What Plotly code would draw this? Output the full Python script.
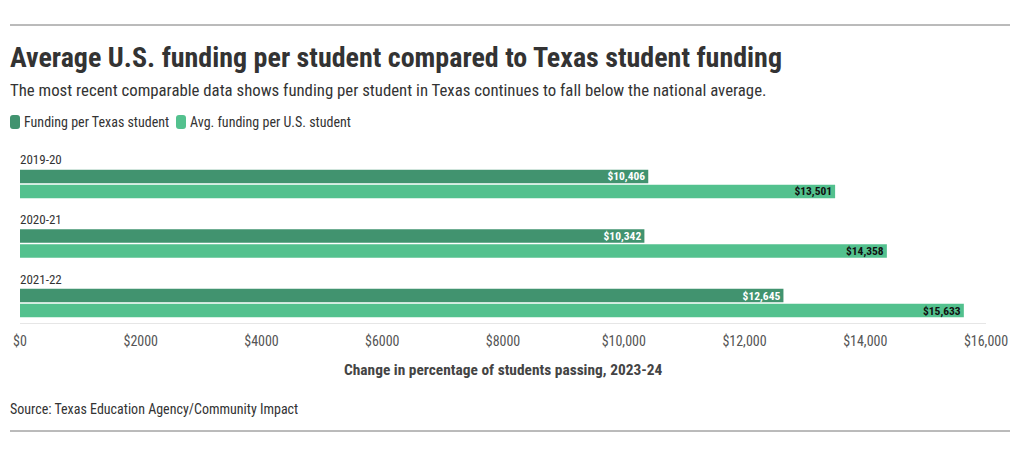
import plotly.graph_objects as go

years = ["2019-20", "2020-21", "2021-22"]
texas = [10406, 10342, 12645]
us_avg = [13501, 14358, 15633]
series_names = ["Funding per Texas student", "Avg. funding per U.S. student"]
tick_vals = [0, 2000, 4000, 6000, 8000, 10000, 12000, 14000, 16000]
tick_text = ["$0", "$2000", "$4000", "$6000", "$8000", "$10,000", "$12,000", "$14,000", "$16,000"]

FONT = "Liberation Sans Narrow, Roboto Condensed, Roboto, sans-serif"
DARK = "#41936f"
LIGHT = "#53c18e"

W, H = 1020, 456
L, R, T, B = 20, 34, 150, 133
PW, PH = W - L - R, H - T - B

def px(x):
    return (x - L) / PW

def py(y):
    return (H - B - y) / PH

fig = go.Figure()
fig.add_trace(go.Bar(
    y=years, x=texas, orientation="h", name=series_names[0],
    marker=dict(color=DARK, line_width=0),
    texttemplate="$%{x:,}", textposition="inside", insidetextanchor="end",
    insidetextfont=dict(color="white", size=11.5, family=FONT, weight="bold"),
    constraintext="none", hoverinfo="skip",
))
fig.add_trace(go.Bar(
    y=years, x=us_avg, orientation="h", name=series_names[1],
    marker=dict(color=LIGHT, line_width=0),
    texttemplate="$%{x:,}", textposition="inside", insidetextanchor="end",
    insidetextfont=dict(color="#111111", size=11.5, family=FONT, weight="bold"),
    constraintext="none", hoverinfo="skip",
))

annotations = []
for yr in years:
    annotations.append(dict(x=0, y=yr, xref="x", yref="y", text=yr, showarrow=False,
                            xanchor="left", yanchor="middle", yshift=24, xshift=-2,
                            font=dict(family=FONT, size=13, color="#333333")))
annotations += [
    dict(x=px(10), y=py(57), xref="paper", yref="paper", xanchor="left", yanchor="middle",
         text="<b>Average U.S. funding per student compared to Texas student funding</b>",
         showarrow=False, font=dict(family=FONT, size=28, color="#333333"), xshift=-2),
    dict(x=px(10), y=py(90), xref="paper", yref="paper", xanchor="left", yanchor="middle",
         text="The most recent comparable data shows funding per student in Texas continues to fall below the national average.",
         showarrow=False, font=dict(family=FONT, size=16.8, color="#333333"), xshift=-2),
    dict(x=px(503), y=py(370), xref="paper", yref="paper", xanchor="center", yanchor="middle",
         text="<b>Change in percentage of students passing, 2023-24</b>",
         showarrow=False, font=dict(family=FONT, size=15.4, color="#444444")),
    dict(x=px(10), y=py(409), xref="paper", yref="paper", xanchor="left", yanchor="middle",
         text="Source: Texas Education Agency/Community Impact",
         showarrow=False, font=dict(family=FONT, size=14, color="#333333"), xshift=-2),
]

# custom legend: rounded swatches + labels
legend_items = [(10, 24, DARK, series_names[0]), (176, 190, LIGHT, series_names[1])]
shapes = []
for sx, tx, col, name in legend_items:
    x0, x1, y0, y1 = sx, sx + 10, 115, 129
    r = 3
    path = (f"M {px(x0 + r)},{py(y0)} L {px(x1 - r)},{py(y0)} "
            f"Q {px(x1)},{py(y0)} {px(x1)},{py(y0 + r)} L {px(x1)},{py(y1 - r)} "
            f"Q {px(x1)},{py(y1)} {px(x1 - r)},{py(y1)} L {px(x0 + r)},{py(y1)} "
            f"Q {px(x0)},{py(y1)} {px(x0)},{py(y1 - r)} L {px(x0)},{py(y0 + r)} "
            f"Q {px(x0)},{py(y0)} {px(x0 + r)},{py(y0)} Z")
    shapes.append(dict(type="path", xref="paper", yref="paper", path=path,
                       fillcolor=col, line=dict(width=0)))
    annotations.append(dict(x=px(tx), y=py(122), xref="paper", yref="paper", xanchor="left",
                            yanchor="middle", text=name, showarrow=False, xshift=-2,
                            font=dict(family=FONT, size=14, color="#333333")))

shapes += [
    dict(type="line", xref="paper", yref="paper", x0=px(10), x1=px(1010), y0=py(25), y1=py(25),
         line=dict(color="#777777", width=1)),
    dict(type="line", xref="paper", yref="paper", x0=px(10), x1=px(1010), y0=py(431), y1=py(431),
         line=dict(color="#777777", width=1)),
]

fig.update_layout(
    width=W, height=H,
    margin=dict(l=L, r=R, t=T, b=B, autoexpand=False),
    paper_bgcolor="white", plot_bgcolor="white",
    barmode="group", bargap=0.496, bargroupgap=0.1,
    font=dict(family=FONT, color="#333333"),
    showlegend=False,
    xaxis=dict(range=[0, 16000], tickvals=tick_vals, ticktext=tick_text,
               showgrid=False, zeroline=False, showline=True, linecolor="#e6e6e6",
               ticks="outside", ticklen=5, tickcolor="rgba(0,0,0,0)",
               tickfont=dict(family=FONT, size=14, color="#555555"), fixedrange=True),
    yaxis=dict(type="category", categoryorder="array", categoryarray=years,
               range=[2.336, -0.57], showticklabels=False, showgrid=False,
               zeroline=False, showline=False, fixedrange=True),
    annotations=annotations, shapes=shapes,
)

fig.write_html("out.html", config={"displayModeBar": False},
               post_script="document.body.style.margin='0';document.body.style.padding='0';")
